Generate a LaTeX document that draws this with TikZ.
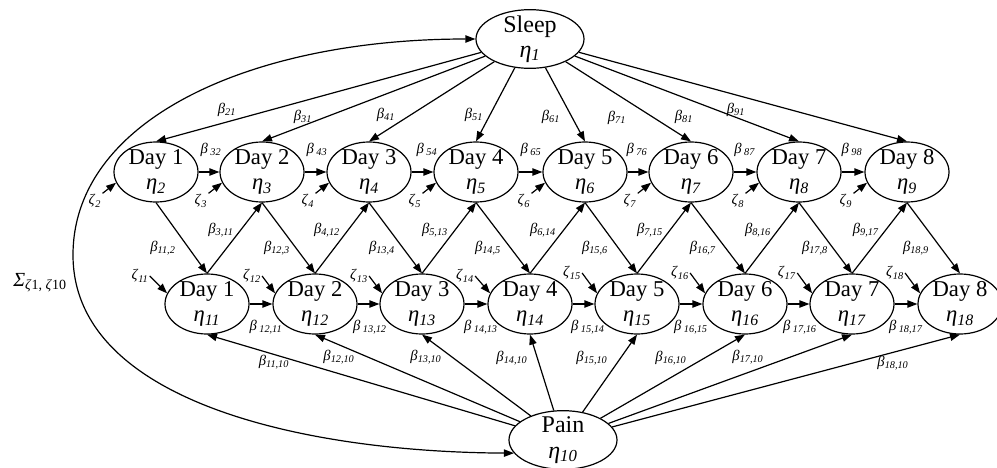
\documentclass[tikz,border=0pt]{standalone}
\usepackage{fontspec}
\setmainfont{Liberation Serif}
\usetikzlibrary{arrows.meta,shapes.geometric}
\tikzset{every picture/.style={line width=0.9pt}}
\newcommand{\grsub}[2]{\textit{#1}\textsubscript{\textit{#2}}}
\newcommand{\grsubsp}[2]{\textit{#1}\,\textsubscript{\textit{#2}}}

\begin{document}
\begin{tikzpicture}[x=0.75pt,y=0.75pt,yscale=-1,xscale=1,
	day/.style={ellipse, draw, minimum width=63pt, minimum height=45pt, inner xsep=0pt, inner ysep=-6pt, align=center, font=\fontsize{17}{19}\selectfont},
	factor/.style={day, minimum width=81pt, minimum height=44pt, font=\fontsize{18}{19}\selectfont},
	effect/.style={-{Triangle[length=7.5pt,width=5.5pt]}},
	coef/.style={inner sep=0.5pt, font=\fontsize{11}{13}\selectfont}]
		\useasboundingbox (0,0) rectangle (997,468);
		
		%Shape: Ellipse [latent factors]
		\node[factor] (sleep) at (530,39) {Sleep\\\grsub{η}{1}};
		\node[factor] (pain) at (563,440) {Pain\\\grsub{η}{10}};
		
		%Shape: Ellipse [sleep days]
		\node[day] (d2) at (156,172) {Day 1\\\grsub{η}{2}};
		\node[day] (d3) at (262,172) {Day 2\\\grsub{η}{3}};
		\node[day] (d4) at (369,172) {Day 3\\\grsub{η}{4}};
		\node[day] (d5) at (476,172) {Day 4\\\grsub{η}{5}};
		\node[day] (d6) at (585,172) {Day 5\\\grsub{η}{6}};
		\node[day] (d7) at (691,172) {Day 6\\\grsub{η}{7}};
		\node[day] (d8) at (799,172) {Day 7\\\grsub{η}{8}};
		\node[day] (d9) at (907,172) {Day 8\\\grsub{η}{9}};
		
		%Shape: Ellipse [pain days]
		\node[day] (d11) at (207,304) {Day 1\\\grsub{η}{11}};
		\node[day] (d12) at (315,304) {Day 2\\\grsub{η}{12}};
		\node[day] (d13) at (422,304) {Day 3\\\grsub{η}{13}};
		\node[day] (d14) at (530,304) {Day 4\\\grsub{η}{14}};
		\node[day] (d15) at (637,304) {Day 5\\\grsub{η}{15}};
		\node[day] (d16) at (745,304) {Day 6\\\grsub{η}{16}};
		\node[day] (d17) at (852,304) {Day 7\\\grsub{η}{17}};
		\node[day] (d18) at (960,304) {Day 8\\\grsub{η}{18}};
		
		%Curve Lines [covariance]
		\coordinate (arcleft) at (73,255);
		\draw [{Triangle[length=7.5pt,width=5.5pt]}-{Triangle[length=7.5pt,width=5.5pt]}] (sleep.west) .. controls (250,39) and (73,120) .. (arcleft) .. controls (73,400) and (300,452) .. (pain.195) ;
		\node[font=\fontsize{15}{17}\selectfont, inner sep=0pt] (sigma) at (40,283) {\textit{Σ}\textsubscript{\textit{ζ}1, \textit{ζ}10}};
		
		%Straight Lines [sleep to days]
		\draw [effect] (sleep) -- (d2.north) ;
		\draw [effect] (sleep) -- (d3.north) ;
		\draw [effect] (sleep) -- (d4.north) ;
		\draw [effect] (sleep) -- (d5.north) ;
		\draw [effect] (sleep) -- (d6.north) ;
		\draw [effect] (sleep) -- (d7.north) ;
		\draw [effect] (sleep) -- (d8.north) ;
		\draw [effect] (sleep) -- (d9.north) ;
		\node[coef] (b21) at (227,110) {\grsub{β}{21}};
		\node[coef] (b31) at (303,117) {\grsub{β}{31}};
		\node[coef] (b41) at (386,115) {\grsub{β}{41}};
		\node[coef] (b51) at (474,115) {\grsub{β}{51}};
		\node[coef] (b61) at (551,117) {\grsub{β}{61}};
		\node[coef] (b71) at (617,118) {\grsub{β}{71}};
		\node[coef] (b81) at (684,117) {\grsub{β}{81}};
		\node[coef] (b91) at (736,110) {\grsub{β}{91}};
		
		%Straight Lines [sleep day to day]
		\draw [effect] (d2) -- (d3) ;
		\draw [effect] (d3) -- (d4) ;
		\draw [effect] (d4) -- (d5) ;
		\draw [effect] (d5) -- (d6) ;
		\draw [effect] (d6) -- (d7) ;
		\draw [effect] (d7) -- (d8) ;
		\draw [effect] (d8) -- (d9) ;
		\node[coef] (b32) at (211,150) {\grsubsp{β}{32}};
		\node[coef] (b43) at (317,150) {\grsubsp{β}{43}};
		\node[coef] (b54) at (427,150) {\grsubsp{β}{54}};
		\node[coef] (b65) at (531,150) {\grsubsp{β}{65}};
		\node[coef] (b76) at (637,150) {\grsubsp{β}{76}};
		\node[coef] (b87) at (745,150) {\grsubsp{β}{87}};
		\node[coef] (b98) at (852,150) {\grsubsp{β}{98}};
		
		%Straight Lines [sleep to next pain]
		\draw [effect] (d2.south) -- (d11.north) ;
		\draw [effect] (d3.south) -- (d12.north) ;
		\draw [effect] (d4.south) -- (d13.north) ;
		\draw [effect] (d5.south) -- (d14.north) ;
		\draw [effect] (d6.south) -- (d15.north) ;
		\draw [effect] (d7.south) -- (d16.north) ;
		\draw [effect] (d8.south) -- (d17.north) ;
		\draw [effect] (d9.south) -- (d18.north) ;
		\node[coef] (b112) at (163,248) {\grsub{β}{11,2}};
		\node[coef] (b123) at (277,248) {\grsub{β}{12,3}};
		\node[coef] (b134) at (382,248) {\grsub{β}{13,4}};
		\node[coef] (b145) at (488,248) {\grsub{β}{14,5}};
		\node[coef] (b156) at (595,248) {\grsub{β}{15,6}};
		\node[coef] (b167) at (703,248) {\grsub{β}{16,7}};
		\node[coef] (b178) at (815,248) {\grsub{β}{17,8}};
		\node[coef] (b189) at (916,248) {\grsub{β}{18,9}};
		
		%Straight Lines [pain to next sleep]
		\draw [effect] (d11.north) -- (d3.south) ;
		\draw [effect] (d12.north) -- (d4.south) ;
		\draw [effect] (d13.north) -- (d5.south) ;
		\draw [effect] (d14.north) -- (d6.south) ;
		\draw [effect] (d15.north) -- (d7.south) ;
		\draw [effect] (d16.north) -- (d8.south) ;
		\draw [effect] (d17.north) -- (d9.south) ;
		\node[coef] (b311) at (221,230) {\grsub{β}{3,11}};
		\node[coef] (b412) at (327,230) {\grsub{β}{4,12}};
		\node[coef] (b513) at (435,230) {\grsub{β}{5,13}};
		\node[coef] (b614) at (543,230) {\grsub{β}{6,14}};
		\node[coef] (b715) at (650,230) {\grsub{β}{7,15}};
		\node[coef] (b816) at (758,230) {\grsub{β}{8,16}};
		\node[coef] (b917) at (866,230) {\grsub{β}{9,17}};
		
		%Straight Lines [pain day to day]
		\draw [effect] (d11) -- (d12) ;
		\draw [effect] (d12) -- (d13) ;
		\draw [effect] (d13) -- (d14) ;
		\draw [effect] (d14) -- (d15) ;
		\draw [effect] (d15) -- (d16) ;
		\draw [effect] (d16) -- (d17) ;
		\draw [effect] (d17) -- (d18) ;
		\node[coef] (b1211) at (266,327) {\grsubsp{β}{12,11}};
		\node[coef] (b1312) at (370,327) {\grsubsp{β}{13,12}};
		\node[coef] (b1413) at (481,327) {\grsubsp{β}{14,13}};
		\node[coef] (b1514) at (588,327) {\grsubsp{β}{15,14}};
		\node[coef] (b1615) at (691,327) {\grsubsp{β}{16,15}};
		\node[coef] (b1716) at (800,327) {\grsubsp{β}{17,16}};
		\node[coef] (b1817) at (906,327) {\grsubsp{β}{18,17}};
		
		%Straight Lines [pain to days]
		\draw [effect] (pain) -- (d11.south) ;
		\draw [effect] (pain) -- (d12.south) ;
		\draw [effect] (pain) -- (d13.south) ;
		\draw [effect] (pain) -- (d14.south) ;
		\draw [effect] (pain) -- (d15.south) ;
		\draw [effect] (pain) -- (d16.south) ;
		\draw [effect] (pain) -- (d17.south) ;
		\draw [effect] (pain) -- (d18.south) ;
		\node[coef] (b1110) at (274,362) {\grsub{β}{11,10}};
		\node[coef] (b1210) at (339,357) {\grsub{β}{12,10}};
		\node[coef] (b1310) at (426,357) {\grsub{β}{13,10}};
		\node[coef] (b1410) at (512,358) {\grsub{β}{14,10}};
		\node[coef] (b1510) at (592,358) {\grsub{β}{15,10}};
		\node[coef] (b1610) at (671,358) {\grsub{β}{16,10}};
		\node[coef] (b1710) at (748,357) {\grsub{β}{17,10}};
		\node[coef] (b1810) at (893,363) {\grsub{β}{18,10}};
		
		%Straight Lines [disturbances]
		\node[coef] (z2) at (95,201) {\grsub{ζ}{2}};
		\node[coef] (z3) at (201,201) {\grsub{ζ}{3}};
		\node[coef] (z4) at (308,201) {\grsub{ζ}{4}};
		\node[coef] (z5) at (415,201) {\grsub{ζ}{5}};
		\node[coef] (z6) at (524,201) {\grsub{ζ}{6}};
		\node[coef] (z7) at (630,201) {\grsub{ζ}{7}};
		\node[coef] (z8) at (738,201) {\grsub{ζ}{8}};
		\node[coef] (z9) at (846,201) {\grsub{ζ}{9}};
		\draw [effect] (z2.north east) -- (d2.195) ;
		\draw [effect] (z3.north east) -- (d3.195) ;
		\draw [effect] (z4.north east) -- (d4.195) ;
		\draw [effect] (z5.north east) -- (d5.195) ;
		\draw [effect] (z6.north east) -- (d6.195) ;
		\draw [effect] (z7.north east) -- (d7.195) ;
		\draw [effect] (z8.north east) -- (d8.195) ;
		\draw [effect] (z9.north east) -- (d9.195) ;
		\node[coef] (z11) at (140,276) {\grsub{ζ}{11}};
		\node[coef] (z12) at (252,276) {\grsub{ζ}{12}};
		\node[coef] (z13) at (359,276) {\grsub{ζ}{13}};
		\node[coef] (z14) at (465,276) {\grsub{ζ}{14}};
		\node[coef] (z15) at (572,273) {\grsub{ζ}{15}};
		\node[coef] (z16) at (680,273) {\grsub{ζ}{16}};
		\node[coef] (z17) at (787,273) {\grsub{ζ}{17}};
		\node[coef] (z18) at (895,273) {\grsub{ζ}{18}};
		\draw [effect] (z11.east) -- (d11.165) ;
		\draw [effect] (z12.east) -- (d12.165) ;
		\draw [effect] (z13.east) -- (d13.165) ;
		\draw [effect] (z14.east) -- (d14.165) ;
		\draw [effect] (z15.east) -- (d15.165) ;
		\draw [effect] (z16.east) -- (d16.165) ;
		\draw [effect] (z17.east) -- (d17.165) ;
		\draw [effect] (z18.east) -- (d18.165) ;
		
\end{tikzpicture}
\end{document}
